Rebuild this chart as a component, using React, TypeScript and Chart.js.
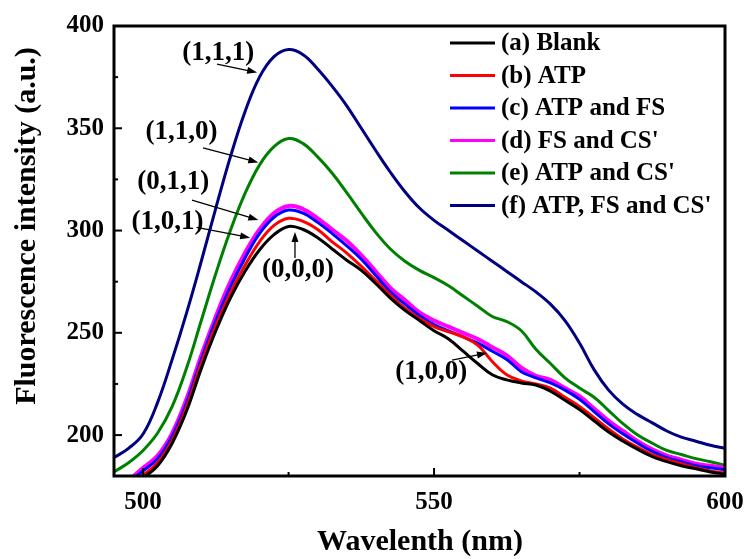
import React, { useEffect, useRef } from "react";
import { Chart, registerables } from "chart.js";

Chart.register(...registerables);

const wavelengths = [
  495, 497.5, 500, 502.5, 505, 507.5, 510, 512.5, 515, 517.5, 520, 522.5, 525, 527.5, 530, 532.5,
  535, 537.5, 540, 542.5, 545, 547.5, 550, 552.5, 555, 557.5, 560, 562.5, 565, 567.5, 570, 572.5,
  575, 577.5, 580, 582.5, 585, 587.5, 590, 592.5, 595, 597.5, 600,
];

const blank = [
  168, 173, 179, 185, 196, 212, 232.5, 251, 267, 280, 290.5, 298, 302, 300.5, 296.5, 291,
  285.5, 280.5, 274, 267, 261, 256, 251, 247, 241, 235, 229.5, 227, 225.5, 224.5, 221.5, 217,
  212.5, 207, 201.5, 197, 193, 189.5, 187, 185, 183.5, 182, 180.9,
];
const atp = [
  170, 175, 180.5, 186.5, 197.5, 214, 235, 253.5, 269.5, 283, 294.5, 302.5, 306, 304.5, 300.5, 294.5,
  289, 282.5, 275.5, 268.5, 262, 257, 253, 250.5, 248, 244, 236, 229.5, 226.5, 225, 223, 218.5,
  214, 208.5, 203, 198, 194, 190.5, 188, 186, 184, 182.5, 181.4,
];
const atpFs = [
  172, 177, 182.5, 188.5, 199.5, 216, 237, 256, 272.5, 286.5, 298.5, 306.5, 310, 308.5, 304, 298.5,
  292.5, 286, 278, 270, 264, 258.5, 254, 251, 248, 245, 241, 237, 231, 228, 225.5, 222,
  217.5, 211.5, 205.5, 200.5, 196, 192, 189, 187, 185, 184, 183,
];
const fsCs = [
  173, 178, 184, 190, 201, 218, 239, 258, 275, 289, 300.5, 308.5, 312, 310.5, 306, 300.5,
  295, 288, 280, 272, 266, 260, 256, 253, 250, 247, 243, 239, 233, 229, 227, 223,
  219, 213, 207, 202, 197, 193, 190, 188, 186, 185, 184,
];
const atpCs = [
  182, 186.5, 192.5, 201, 214, 233, 256, 279, 300, 318, 332, 341, 345, 342.5, 336, 328,
  318.5, 308.5, 299, 291, 285, 280.5, 277, 273, 268, 263, 258, 255.5, 251, 242, 235, 228,
  223, 218.5, 212, 205.5, 200, 196, 192.5, 190.5, 188.5, 187, 185.3,
];
const atpFsCs = [
  189, 193.5, 200.5, 216, 237, 260, 285, 311, 336, 358, 375, 385, 388.5, 386, 379, 370.5,
  361, 350, 339, 328.5, 319, 311, 305, 300, 295, 290, 285, 280, 275, 270, 264, 256,
  245, 232, 222, 215, 210, 206, 202, 199, 197, 195, 193.5,
];

const seriesLabels = [
  "(a) Blank",
  "(b) ATP",
  "(c) ATP and FS",
  "(d) FS and CS'",
  "(e) ATP and CS'",
  "(f) ATP, FS and CS'",
];
const seriesValues = [blank, atp, atpFs, fsCs, atpCs, atpFsCs];
const seriesColors = ["#000000", "#ff0000", "#0000ff", "#ff00ff", "#008000", "#000080"];

const xTicks = [500, 550, 600];
const xMinorTicks = [525, 575];
const yTicks = [200, 250, 300, 350, 400];
const yMinorTicks = [225, 275, 325, 375];

// annotations, all in data units
const annotationTexts = ["(1,1,1)", "(1,1,0)", "(0,1,1)", "(1,0,1)", "(0,0,0)", "(1,0,0)"];
const annotationTextPos = [
  [512.9, 386.8],
  [506.6, 348.2],
  [505.2, 323.7],
  [504.2, 304.2],
  [526.6, 280.7],
  [549.5, 230.6],
];
const annotationArrows = [
  [512.7, 381.4, 519.6, 377.3],
  [510.3, 340.4, 519.8, 333.3],
  [508.4, 314.9, 519.8, 305.2],
  [509.2, 301.5, 518.4, 296.5],
  [526.1, 286.6, 526.1, 299.3],
  [553.1, 236.7, 559.1, 240.1],
];

const FONT = "'Liberation Serif', 'Times New Roman', serif";

const decor = {
  id: "decor",
  afterDraw(chart: any) {
    const { ctx, chartArea: a, scales } = chart;
    const x = scales.x;
    const y = scales.y;
    ctx.save();
    ctx.strokeStyle = "#000";
    ctx.fillStyle = "#000";
    ctx.lineWidth = 3;
    ctx.strokeRect(a.left, a.top, a.right - a.left, a.bottom - a.top);
    ctx.lineWidth = 2;
    const seg = (x1: number, y1: number, x2: number, y2: number) => {
      ctx.beginPath();
      ctx.moveTo(x1, y1);
      ctx.lineTo(x2, y2);
      ctx.stroke();
    };
    xTicks.forEach((v) => {
      const p = x.getPixelForValue(v);
      seg(p, a.bottom, p, a.bottom - 8);
    });
    xMinorTicks.forEach((v) => {
      const p = x.getPixelForValue(v);
      seg(p, a.bottom, p, a.bottom - 4);
    });
    yTicks.forEach((v) => {
      const p = y.getPixelForValue(v);
      seg(a.left, p, a.left + 8, p);
    });
    yMinorTicks.forEach((v) => {
      const p = y.getPixelForValue(v);
      seg(a.left, p, a.left + 4, p);
    });

    ctx.font = `bold 27px ${FONT}`;
    ctx.textAlign = "center";
    ctx.textBaseline = "middle";
    annotationTexts.forEach((t, i) => {
      const [tx, ty] = annotationTextPos[i];
      ctx.fillText(t, x.getPixelForValue(tx), y.getPixelForValue(ty));
      const [fx, fy, ex, ey] = annotationArrows[i];
      const x1 = x.getPixelForValue(fx);
      const y1 = y.getPixelForValue(fy);
      const x2 = x.getPixelForValue(ex);
      const y2 = y.getPixelForValue(ey);
      const ang = Math.atan2(y2 - y1, x2 - x1);
      const hl = 10;
      const hw = 3.5;
      ctx.lineWidth = 1.3;
      seg(x1, y1, x2 - Math.cos(ang) * hl * 0.8, y2 - Math.sin(ang) * hl * 0.8);
      ctx.beginPath();
      ctx.moveTo(x2, y2);
      ctx.lineTo(x2 - Math.cos(ang) * hl - Math.sin(ang) * hw, y2 - Math.sin(ang) * hl + Math.cos(ang) * hw);
      ctx.lineTo(x2 - Math.cos(ang) * hl + Math.sin(ang) * hw, y2 - Math.sin(ang) * hl - Math.cos(ang) * hw);
      ctx.closePath();
      ctx.fill();
    });

    ctx.font = `bold 25px ${FONT}`;
    ctx.textAlign = "left";
    ctx.textBaseline = "middle";
    seriesLabels.forEach((lab, i) => {
      const ry = 43 + i * 32.5;
      ctx.strokeStyle = seriesColors[i];
      ctx.lineWidth = 3;
      seg(450, ry, 495, ry);
      ctx.fillStyle = "#000";
      ctx.fillText(lab, 501, ry + 1);
    });

    ctx.font = `bold 30px ${FONT}`;
    ctx.textAlign = "center";
    ctx.textBaseline = "middle";
    ctx.fillText("Wavelenth (nm)", 420, 542);
    ctx.save();
    ctx.translate(27, 226);
    ctx.rotate(-Math.PI / 2);
    ctx.fillText("Fluorescence intensity (a.u.)", 0, 0);
    ctx.restore();
    ctx.restore();
  },
};

export default function App() {
  const ref = useRef<HTMLCanvasElement>(null);
  useEffect(() => {
    if (!ref.current) return;
    const chart = new Chart(ref.current, {
      type: "line",
      data: {
        datasets: seriesLabels.map((label, i) => ({
          label,
          data: wavelengths.map((w, j) => ({ x: w, y: seriesValues[i][j] })),
          borderColor: seriesColors[i],
          backgroundColor: seriesColors[i],
          borderWidth: i === 3 ? 4 : 3,
          pointRadius: 0,
          tension: 0.4,
          fill: false,
        })),
      },
      options: {
        responsive: false,
        animation: false,
        events: [],
        layout: { padding: { top: 26, right: 21, left: 0, bottom: 0 } },
        plugins: { legend: { display: false }, tooltip: { enabled: false } },
        scales: {
          x: {
            type: "linear",
            min: 495,
            max: 600,
            afterBuildTicks: (s: any) => {
              s.ticks = xTicks.map((v) => ({ value: v }));
            },
            afterFit: (s: any) => {
              s.height = 83;
              s.paddingRight = 0;
              s.paddingLeft = 0;
            },
            grid: { display: false, drawTicks: false },
            border: { display: false },
            ticks: {
              padding: 12,
              color: "#000",
              font: { family: FONT, size: 25, weight: "bold" },
              maxRotation: 0,
              autoSkip: false,
            },
          },
          y: {
            type: "linear",
            min: 180,
            max: 400,
            afterBuildTicks: (s: any) => {
              s.ticks = yTicks.map((v) => ({ value: v }));
            },
            afterFit: (s: any) => {
              s.width = 114;
              s.paddingTop = 0;
              s.paddingBottom = 0;
            },
            grid: { display: false, drawTicks: false },
            border: { display: false },
            ticks: {
              padding: 10,
              color: "#000",
              font: { family: FONT, size: 25, weight: "bold" },
              autoSkip: false,
            },
          },
        },
      },
      plugins: [decor],
    });
    return () => chart.destroy();
  }, []);
  return (
    <div style={{ position: "fixed", left: 0, top: 0, width: 746, height: 559, background: "#fff" }}>
      <canvas ref={ref} width={746} height={559} />
    </div>
  );
}
